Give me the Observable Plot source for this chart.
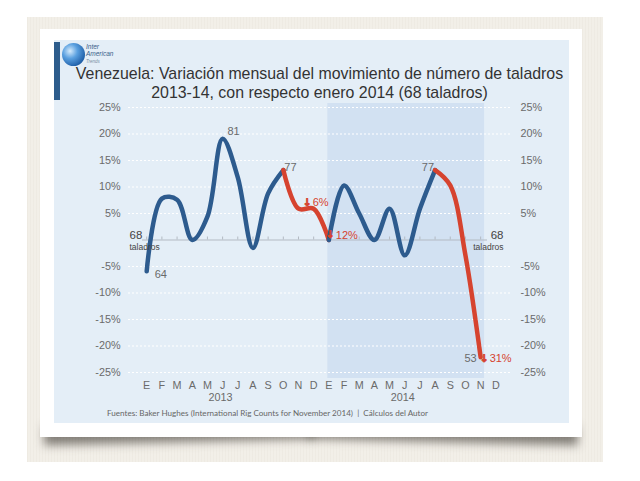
<!DOCTYPE html>
<html><head><meta charset="utf-8">
<script src="https://cdn.jsdelivr.net/npm/d3@7"></script>
<script src="https://cdn.jsdelivr.net/npm/@observablehq/plot@0.6"></script>
<style>
html,body{margin:0;padding:0;background:#fff;}
#stage{position:relative;width:640px;height:481px;overflow:hidden;font-family:"Liberation Sans",Arial,sans-serif;}
#beige{position:absolute;left:27px;top:17px;width:576px;height:445px;background:#f2efe8;
  background-image:repeating-linear-gradient(90deg,rgba(120,100,70,0.03) 0 1px,transparent 1px 3px);}
.sh{position:absolute;top:423px;height:19px;width:270px;background:rgba(40,35,30,0.55);filter:blur(5px);}
#shL{left:44px;transform:rotate(-1.4deg);}
#shR{left:308px;transform:rotate(1.4deg);}
#card{position:absolute;left:40px;top:29px;width:542px;height:408px;background:#fff;}
#panel{position:absolute;left:54px;top:40px;width:515px;height:383px;background:#e4eef7;}
#bar{position:absolute;left:54px;top:42px;width:6px;height:58px;background:#2c5c8c;}
#globe{position:absolute;left:62px;top:43px;width:23px;height:23px;border-radius:50%;
  background:radial-gradient(circle at 35% 35%,#d6ebfc 0%,#5aa0e0 35%,#1f5fa8 75%,#163f78 100%);}
#logo{position:absolute;left:86px;top:43px;font-style:italic;color:#3a5f8a;font-size:6.5px;line-height:7px;}
#logo .s{font-size:4.5px;color:#7a8ea4;}
#title{position:absolute;left:62px;width:515px;top:65px;text-align:center;color:#333;font-size:15.9px;line-height:18.5px;}
#chart{position:absolute;left:54px;top:96px;}
#foot{position:absolute;left:107px;top:408px;font-family:Lato,"Open Sans",sans-serif;font-size:8.1px;color:#666;white-space:nowrap;}
</style></head>
<body><div id="stage">
<div id="beige"></div>
<div class="sh" id="shL"></div><div class="sh" id="shR"></div>
<div id="card"></div>
<div id="panel"></div>
<div id="bar"></div>
<div id="globe"></div>
<div id="logo">Inter<br>American<br><span class="s">Trends</span></div>
<div id="title">Venezuela: Variación mensual del movimiento de número de taladros<br>2013-14, con respecto enero 2014 (68 taladros)</div>
<div id="chart"></div>
<div id="foot">Fuentes: Baker Hughes (International Rig Counts for November 2014) &nbsp;|&nbsp; Cálculos del Autor</div>
</div>
<script>
// Month letters (E = enero ... D = diciembre), 2013 and 2014
const months = ["E","F","M","A","M","J","J","A","S","O","N","D","E","F","M","A","M","J","J","A","S","O","N","D"];
const years = ["2013","2014"];
const yearMonth = [5, 17];
// Monthly variation (%) vs. 68 rigs (enero 2014), E-2013 .. N-2014
const variation = [-5.9, 7.8, 7.6, 0, 4.4, 19.1, 11.8, -1.5, 8.8, 13.2, 5.9, 5.9,
                   0, 10.3, 5.0, 0, 5.9, -2.9, 5.9, 13.2, 10.3, -2.9, -22.1];
// Segment type starting at each month
const tramo = ["sube","sube","sube","sube","sube","sube","sube","sube","sube","cae","cae","cae",
               "sube","sube","sube","sube","sube","sube","sube","cae","cae","cae","cae"];
const yTicks = [-25,-20,-15,-10,-5,5,10,15,20,25];
const gridValues = [-25,-20,-15,-10,-5,5,10,15,20,25];
const shadeFrom = [12], shadeTo = [22];
const rigLabels = ["64","81","77","77","53"];
const rigMonths = [0, 5, 9, 19, 22];
const dropLabels = ["6%","12%","31%"];
const dropMonths = [11, 12, 22];
const arrow = "↓";
const baseRigs = "68";
const baseUnit = "taladros";

const pts = variation.map((v, i) => ({m: i, v, t: tramo[i]}));
const rigs = rigLabels.map((t, i) => ({m: rigMonths[i], v: variation[rigMonths[i]], t}));
const drops = dropLabels.map((t, i) => ({m: dropMonths[i], v: variation[dropMonths[i]], t}));
const shade = shadeFrom.map((f, i) => ({from: f, to: shadeTo[i]}));
const monthIdx = months.map((_, i) => i);
const yearData = years.map((y, i) => ({y, m: yearMonth[i]}));

const gray = "#6a6a6a";
const red = "#d6432f";
const rigOpts = [
  {textAnchor: "start", dx: 8, dy: 3},
  {textAnchor: "middle", dx: 11, dy: -7},
  {textAnchor: "start", dx: 1, dy: -3},
  {textAnchor: "end", dx: -1, dy: -3},
  {textAnchor: "end", dx: -4, dy: 1}
];
const dropOpts = [
  {dx: -8, dy: -6},
  {dx: 0, dy: -5},
  {dx: 2, dy: 1}
];

const chart = Plot.plot({
  width: 515, height: 320,
  marginLeft: 74, marginRight: 57, marginTop: 11, marginBottom: 44,
  style: {background: "transparent", fontFamily: "Liberation Sans, Arial, sans-serif", overflow: "visible"},
  x: {type: "linear", domain: [-1.2, 24.1], label: null},
  y: {domain: [-25, 25], label: null},
  color: {domain: ["sube","cae"], range: ["#2d5b8e", red]},
  marks: [
    Plot.rect(shade, {x1: "from", x2: "to", fill: "#d2e1f2", insetLeft: -1, insetRight: -4, insetTop: -4, insetBottom: -6}),
    Plot.ruleY(gridValues, {stroke: "#ffffff", strokeDasharray: "2,2", strokeWidth: 1.1}),
    Plot.ruleY([0], {stroke: "#b3bac3", strokeWidth: 1, insetLeft: 14, insetRight: 25}),
    Plot.ruleX(monthIdx, {x: d => d, y1: 0, y2: 0, insetTop: -3, stroke: "#b3bac3"}),
    Plot.axisY({anchor: "left", ticks: yTicks, tickFormat: d => d + "%", tickSize: 0, tickPadding: 8, fontSize: 10.8, fill: gray, label: null}),
    Plot.axisY({anchor: "right", ticks: yTicks, tickFormat: d => d + "%", tickSize: 0, tickPadding: 8, fontSize: 10.8, fill: gray, label: null}),
    Plot.axisX({ticks: monthIdx, tickFormat: i => months[i], tickSize: 0, tickPadding: 9, fontSize: 10.8, fill: gray, label: null}),
    Plot.text(yearData, {x: "m", text: "y", frameAnchor: "bottom", dy: 28, dx: -2, fontSize: 10.8, fill: gray}),
    Plot.line(pts, {x: "m", y: "v", stroke: "t", z: null, curve: "catmull-rom", strokeWidth: 4.5, strokeLinecap: "round", strokeLinejoin: "round"}),
    ...rigs.map((d, i) => Plot.text([d], {x: "m", y: "v", text: "t", fontSize: 11, fill: gray, ...rigOpts[i]})),
    ...drops.map((d, i) => Plot.text([d], {x: "m", y: "v", text: () => arrow, fontFamily: "DejaVu Sans", fontWeight: "bold", fontSize: 10.5, fill: red, stroke: red, strokeWidth: 0.8, textAnchor: "start", dx: dropOpts[i].dx - 3, dy: dropOpts[i].dy})),
    ...drops.map((d, i) => Plot.text([d], {x: "m", y: "v", text: "t", fontSize: 11, fill: red, textAnchor: "start", dx: dropOpts[i].dx + 7, dy: dropOpts[i].dy})),
    Plot.text([baseRigs], {frameAnchor: "left", y: 0, text: d => d, dy: -5, dx: 1, fontSize: 11.5, fill: "#444"}),
    Plot.text([baseUnit], {frameAnchor: "left", y: 0, text: d => d, dy: 7, dx: 1, fontSize: 8.5, fill: "#444"}),
    Plot.text([baseRigs], {frameAnchor: "right", y: 0, text: d => d, dy: -5, dx: -9, fontSize: 11.5, fill: "#444"}),
    Plot.text([baseUnit], {frameAnchor: "right", y: 0, text: d => d, dy: 7, dx: -9, fontSize: 8.5, fill: "#444"})
  ]
});
document.getElementById("chart").appendChild(chart);
</script>
</body></html>
